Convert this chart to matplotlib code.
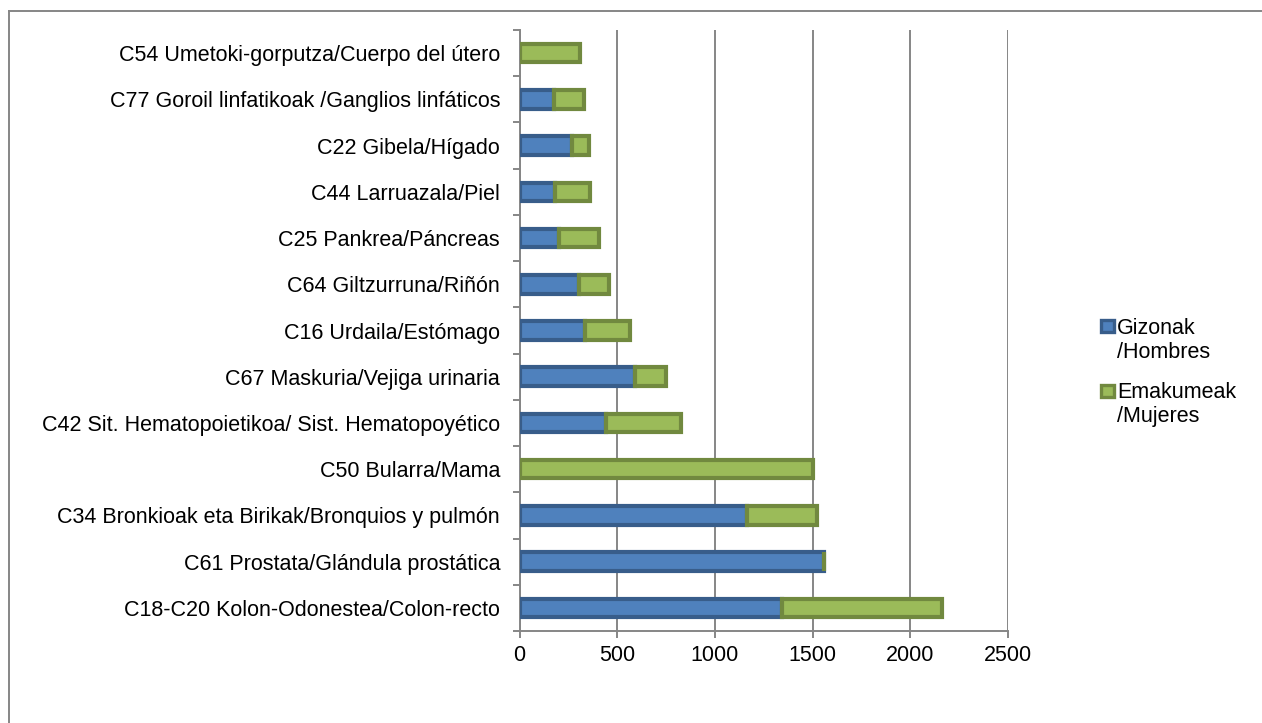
import numpy as np
import matplotlib.pyplot as plt
from matplotlib.lines import Line2D
from matplotlib.patches import Rectangle

plt.rcParams['font.family'] = ['Liberation Sans', 'DejaVu Sans']

# bottom to top
categories = [
    'C18-C20 Kolon-Odonestea/Colon-recto',
    'C61 Prostata/Glándula prostática',
    'C34 Bronkioak eta Birikak/Bronquios y pulmón',
    'C50 Bularra/Mama',
    'C42 Sit. Hematopoietikoa/ Sist. Hematopoyético',
    'C67 Maskuria/Vejiga urinaria',
    'C16 Urdaila/Estómago',
    'C64 Giltzurruna/Riñón',
    'C25 Pankrea/Páncreas',
    'C44 Larruazala/Piel',
    'C22 Gibela/Hígado',
    'C77 Goroil linfatikoak /Ganglios linfáticos',
    'C54 Umetoki-gorputza/Cuerpo del útero',
]
hombres = [1341, 1559, 1165, 0, 441, 590, 336, 305, 201, 180, 271, 177, 0]
mujeres = [819, 0, 355, 1500, 383, 159, 230, 152, 208, 181, 85, 152, 310]
series_names = ['Gizonak\n/Hombres', 'Emakumeak\n/Mujeres']

xticks = [0, 500, 1000, 1500, 2000, 2500]

blue, blue_e = '#4F81BD', '#385D8A'
green, green_e = '#9BBB59', '#71893F'
grey = '#868686'
W, H = 1262, 723

fig = plt.figure(figsize=(W / 100, H / 100), dpi=100)
ax = fig.add_axes([519.5 / W, 1 - 631 / H, (1008 - 519.5) / W, 601 / H])

y = np.arange(len(categories))
h = np.array(hombres)
m = np.array(mujeres)
ax.barh(y, h, height=0.40, color=blue, edgecolor=blue_e, linewidth=3, zorder=3)
ax.barh(y, m, left=h, height=0.40, color=green, edgecolor=green_e, linewidth=3, zorder=3)

ax.set_xlim(0, 2500)
ax.set_ylim(-0.5, len(categories) - 0.5)
ax.set_xticks(xticks)
ax.set_xticklabels([str(t) for t in xticks], fontsize=15.5)
ax.set_yticks(y)
ax.set_yticklabels(categories, fontsize=15.5)
ax.set_yticks(np.arange(-0.5, len(categories), 1), minor=True)
ax.tick_params(axis='y', which='major', length=0, pad=14)
ax.tick_params(axis='y', which='minor', length=5, color=grey, width=1.4)
ax.tick_params(axis='x', length=5, color=grey, width=1.4, pad=5)
ax.grid(axis='x', color=grey, linewidth=1.4, zorder=0)
for s in ['top', 'right']:
    ax.spines[s].set_visible(False)
for s in ['left', 'bottom']:
    ax.spines[s].set_color(grey)
    ax.spines[s].set_linewidth(1.4)

# legend, square next to the first line of each label
for (fc, ec), name, ytop in zip([(blue, blue_e), (green, green_e)], series_names, [326.5, 390.5]):
    fig.add_artist(Rectangle((1101 / W, 1 - (ytop + 6) / H), 13 / W, 12 / H,
                             facecolor=fc, edgecolor=ec, linewidth=2.4,
                             transform=fig.transFigure))
    fig.text(1117 / W, 1 - (ytop - 8.5) / H, name, fontsize=15.5, va='top', ha='left',
             linespacing=1.2)

# outer frame (top and left only)
fig.add_artist(Line2D([8.5 / W, 1], [1 - 10.5 / H] * 2, color=grey, lw=1.4))
fig.add_artist(Line2D([8.5 / W] * 2, [0, 1 - 10.5 / H], color=grey, lw=1.4))

fig.savefig('out.png', dpi=100)
